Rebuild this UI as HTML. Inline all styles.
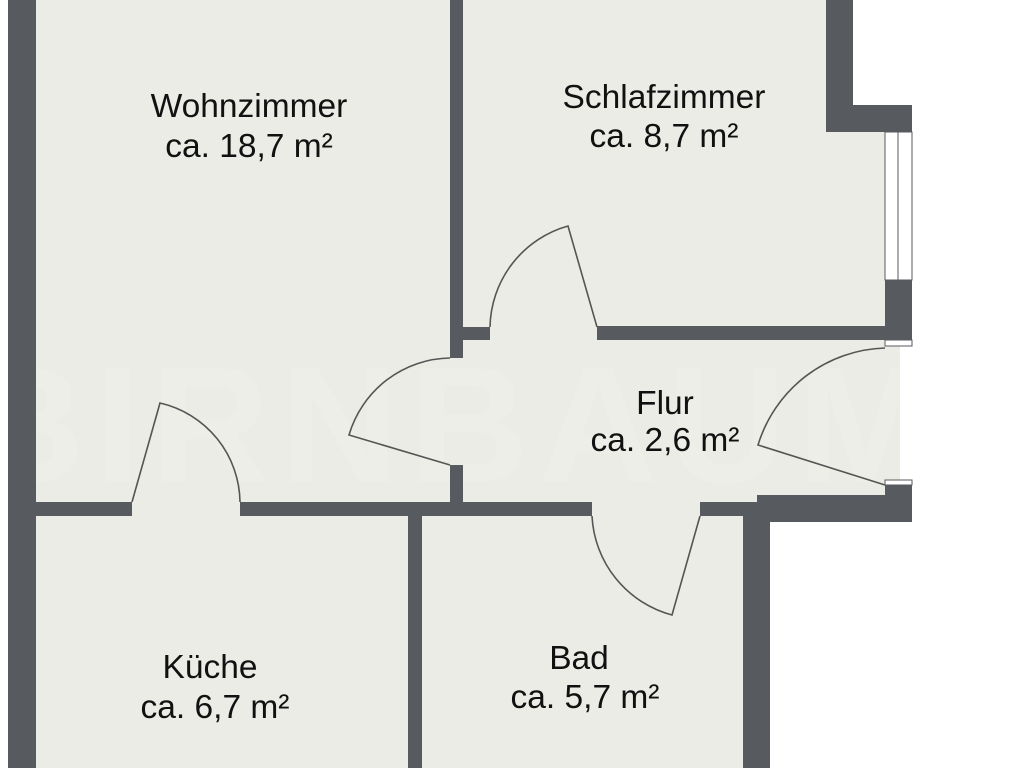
<!DOCTYPE html>
<html><head><style>
body{margin:0;width:1024px;height:768px;overflow:hidden;background:#fff}
</style></head><body>
<svg width="1024" height="768" viewBox="0 0 1024 768" xmlns="http://www.w3.org/2000/svg">
<g fill="#ecece6">
<rect x="36" y="0" width="414" height="516"/>
<rect x="450" y="358" width="13" height="107"/>
<rect x="463" y="0" width="363" height="340"/>
<rect x="826" y="132" width="59" height="195"/>
<rect x="463" y="340" width="437" height="162"/>
<rect x="463" y="340" width="294" height="176"/>
<rect x="36" y="516" width="372" height="252"/>
<rect x="422" y="516" width="321" height="252"/>
</g>
<text x="455" y="482" text-anchor="middle" font-family="Liberation Sans, sans-serif" font-weight="bold" font-size="165" fill="#fff" opacity="0.15" letter-spacing="10">BIRNBAUM</text>
<g fill="#575a5f">
<rect x="8" y="0" width="28" height="768"/>
<rect x="450" y="0" width="13" height="358"/>
<rect x="450" y="465" width="13" height="51"/>
<rect x="463" y="327" width="27" height="13"/>
<rect x="597" y="326" width="288" height="14"/>
<rect x="826" y="0" width="27" height="132"/>
<rect x="826" y="105" width="86" height="27"/>
<rect x="885" y="280" width="27" height="60"/>
<rect x="36" y="502" width="96" height="14"/>
<rect x="240" y="502" width="352" height="14"/>
<rect x="700" y="502" width="57" height="14"/>
<rect x="757" y="495" width="155" height="27"/>
<rect x="885" y="485" width="27" height="37"/>
<rect x="408" y="516" width="14" height="252"/>
<rect x="743" y="516" width="27" height="252"/>
</g>
<g fill="#fff" stroke="#575a5f" stroke-width="1">
<rect x="885" y="132" width="13" height="148"/>
<rect x="898" y="132" width="14" height="148"/>
<rect x="885" y="340" width="27" height="6"/>
<rect x="885" y="480" width="27" height="5"/>
</g>
<g fill="none" stroke="#555" stroke-width="1.6">
<path d="M490 327 A107 107 0 0 1 568 226 L597 327"/>
<path d="M450 358 A107 107 0 0 0 349 435 L450 465"/>
<path d="M885 348 A137 137 0 0 0 758 445 L885 485"/>
<path d="M132 502 L160 403 A103 103 0 0 1 240 502"/>
<path d="M592 516 A108 108 0 0 0 672 615 L700 516"/>
</g>
<g font-family="Liberation Sans, sans-serif" font-size="33.5" fill="#111" text-anchor="middle">
<text x="249" y="117">Wohnzimmer</text><text x="249" y="157">ca. 18,7 m²</text>
<text x="664" y="108">Schlafzimmer</text><text x="664" y="147">ca. 8,7 m²</text>
<text x="665" y="414">Flur</text><text x="665" y="451">ca. 2,6 m²</text>
<text x="210" y="678">Küche</text><text x="215" y="718">ca. 6,7 m²</text>
<text x="579" y="669">Bad</text><text x="585" y="708">ca. 5,7 m²</text>
</g>
</svg>
</body></html>
